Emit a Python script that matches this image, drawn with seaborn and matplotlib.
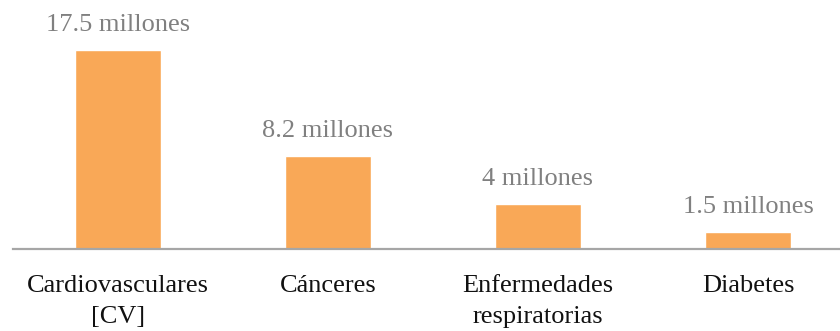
import matplotlib
matplotlib.use("Agg")
import matplotlib.pyplot as plt
import matplotlib.patheffects as pe
import seaborn as sns
import pandas as pd

categorias = ["Cardiovasculares\n[CV]", "Cánceres", "Enfermedades\nrespiratorias", "Diabetes"]
muertes = [17.5, 8.2, 4.0, 1.5]
etiquetas = ["17.5 millones", "8.2 millones", "4 millones", "1.5 millones"]

df = pd.DataFrame({"categoria": categorias, "muertes": muertes})

sns.set_theme(style="white")
plt.rcParams["font.family"] = ["Liberation Serif", "DejaVu Serif"]

fig = plt.figure(figsize=(8.4, 3.31), dpi=100)
W, H = 840, 331
base_px = 249
ax = fig.add_axes([13 / W, (H - base_px) / H, 840 / W, base_px / H])

sns.barplot(data=df, x="categoria", y="muertes", color="#F9A857",
            saturation=1, width=0.405, ax=ax)

for bar in ax.patches:
    bar.set_path_effects([pe.SimplePatchShadow(offset=(1.2, -0.8), shadow_rgbFace="#bbbbbb", alpha=0.5),
                          pe.Normal()])

for bar, txt in zip(ax.patches, etiquetas):
    ax.annotate(txt, (bar.get_x() + bar.get_width() / 2, bar.get_height()),
                xytext=(0, 10), textcoords="offset points", ha="center", va="bottom",
                fontsize=19, color="#808080")

ax.set_xlim(-0.5, 3.5)
ax.set_ylim(0, base_px / 11.37)
ax.set_xlabel("")
ax.set_ylabel("")
ax.set_yticks([])
for s in ["top", "right", "left"]:
    ax.spines[s].set_visible(False)
ax.spines["bottom"].set_color("#A6A6A6")
ax.spines["bottom"].set_linewidth(1.6)
ax.tick_params(axis="x", length=0, pad=19, labelsize=19, labelcolor="#111111")
for lbl in ax.get_xticklabels():
    lbl.set_linespacing(1.5)
ax.patch.set_alpha(0)

fig.savefig("out.png", dpi=100)
